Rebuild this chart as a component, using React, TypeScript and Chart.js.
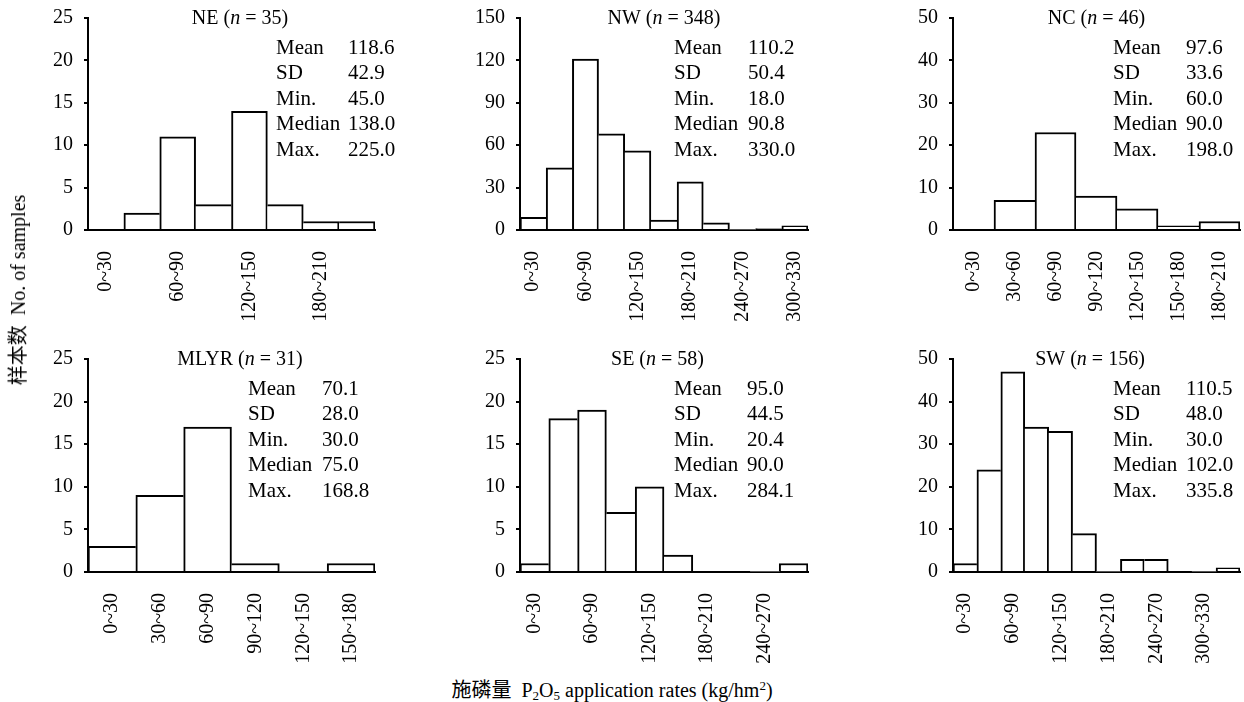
import { useEffect, useRef } from "react";
import { Chart, registerables } from "chart.js";

Chart.register(...registerables);

// ---------- data ----------
const binLabels = [
  "0~30", "30~60", "60~90", "90~120", "120~150", "150~180",
  "180~210", "210~240", "240~270", "270~300", "300~330", "330~360",
];
const regionNames = ["NE", "NW", "NC", "MLYR", "SE", "SW"];
const sampleSizes = [35, 348, 46, 31, 58, 156];

const neCounts = [0, 2, 11, 3, 14, 3, 1, 1];
const nwCounts = [9, 44, 121, 68, 56, 7, 34, 5, 0, 1, 3];
const ncCounts = [0, 7, 23, 8, 5, 1, 2];
const mlyrCounts = [3, 9, 17, 1, 0, 1];
const seCounts = [1, 18, 19, 7, 10, 2, 0, 0, 0, 1];
const swCounts = [2, 24, 47, 34, 33, 9, 0, 3, 3, 0, 0, 1];
const countsByRegion = [neCounts, nwCounts, ncCounts, mlyrCounts, seCounts, swCounts];

const yMaxima = [25, 150, 50, 25, 25, 50];
const yStepSizes = [5, 30, 10, 5, 5, 10];
const tickLabelEvery = [2, 2, 1, 1, 2, 2];

const statNames = ["Mean", "SD", "Min.", "Median", "Max."];
const meanValues = [118.6, 110.2, 97.6, 70.1, 95.0, 110.5];
const sdValues = [42.9, 50.4, 33.6, 28.0, 44.5, 48.0];
const minValues = [45.0, 18.0, 60.0, 30.0, 20.4, 30.0];
const medianValues = [138.0, 90.8, 90.0, 75.0, 90.0, 102.0];
const maxValues = [225.0, 330.0, 198.0, 168.8, 284.1, 335.8];

// ---------- layout ----------
const SERIF = '"Liberation Serif", "Times New Roman", "Noto Sans CJK SC", serif';
const COLS = [
  { left: 88, right: 375 },
  { left: 520, right: 808 },
  { left: 953, right: 1240 },
];
const ROWS = [
  { top: 18, bottom: 230 },
  { top: 359, bottom: 572 },
];
const PANEL_TEXT = [
  { titleDx: 8.5, labelX: 188, valueX: 260 },
  { titleDx: 0, labelX: 154, valueX: 228 },
  { titleDx: 0, labelX: 160, valueX: 233 },
  { titleDx: 8.5, labelX: 160, valueX: 234 },
  { titleDx: -6.5, labelX: 154, valueX: 227 },
  { titleDx: -6.5, labelX: 160, valueX: 233 },
];
const Y_AXIS_W = 70;
const X_AXIS_H = 95;
const PAD_TOP = 15;
const PAD_RIGHT = 20;
const BAR_LINE = 2;

function Panel({ index }: { index: number }) {
  const ref = useRef<HTMLCanvasElement>(null);
  const col = COLS[index % 3];
  const row = ROWS[Math.floor(index / 3)];
  const w = col.right - col.left + Y_AXIS_W + PAD_RIGHT;
  const h = row.bottom - row.top + PAD_TOP + X_AXIS_H;

  useEffect(() => {
    if (!ref.current) return;
    const counts = countsByRegion[index];
    const labels = binLabels.slice(0, counts.length);
    const stats = [meanValues[index], sdValues[index], minValues[index], medianValues[index], maxValues[index]];
    const text = PANEL_TEXT[index];
    const step = tickLabelEvery[index];
    const last = counts.length - 1;

    const panelText = {
      id: "panelText",
      afterDraw(chart: any) {
        const { ctx, chartArea } = chart;
        ctx.save();
        ctx.fillStyle = "#000";
        ctx.textBaseline = "middle";
        ctx.textAlign = "left";
        const normal = `20px ${SERIF}`;
        const italic = `italic 20px ${SERIF}`;
        const parts: [string, string][] = [
          [`${regionNames[index]} (`, normal],
          ["n", italic],
          [` = ${sampleSizes[index]})`, normal],
        ];
        let total = 0;
        for (const [s, f] of parts) {
          ctx.font = f;
          total += ctx.measureText(s).width;
        }
        let x = (chartArea.left + chartArea.right) / 2 + text.titleDx - total / 2;
        const ty = chartArea.top + 1;
        for (const [s, f] of parts) {
          ctx.font = f;
          ctx.fillText(s, x, ty);
          x += ctx.measureText(s).width;
        }
        ctx.font = `21px ${SERIF}`;
        statNames.forEach((name, i) => {
          const yy = chartArea.top + 30.5 + i * 25.4;
          ctx.fillText(name, chartArea.left + text.labelX, yy);
          ctx.fillText(stats[i].toFixed(1), chartArea.left + text.valueX, yy);
        });
        ctx.restore();
      },
    };

    const chart = new Chart(ref.current, {
      type: "bar",
      data: {
        labels,
        datasets: [
          {
            data: counts,
            backgroundColor: "#fff",
            borderColor: "#000",
            // each shared edge is drawn once, by the taller of the two neighbouring bars
            borderWidth: (c: any) => {
              const i = c.dataIndex;
              const v = counts[i];
              return {
                top: BAR_LINE,
                bottom: 0,
                left: i === 0 || counts[i - 1] < v ? BAR_LINE : 0,
                right: i === last || counts[i + 1] <= v ? BAR_LINE : 0,
              };
            },
            borderSkipped: "start",
            barPercentage: 1,
            categoryPercentage: 1,
          },
        ],
      },
      options: {
        responsive: false,
        animation: false,
        devicePixelRatio: 1,
        layout: { padding: { top: PAD_TOP, right: PAD_RIGHT, left: 0, bottom: 0 } },
        plugins: { legend: { display: false }, tooltip: { enabled: false } },
        scales: {
          x: {
            grid: { display: false },
            border: { display: true, color: "#000", width: 2 },
            ticks: {
              autoSkip: false,
              maxRotation: 90,
              minRotation: 90,
              padding: 13,
              color: "#000",
              font: { family: SERIF, size: 20 },
              callback: (_v: any, i: number) => (i % step === 0 ? labels[i] : ""),
            },
            afterFit: (s: any) => {
              s.height = X_AXIS_H;
              s.paddingLeft = 0;
              s.paddingRight = 0;
            },
          },
          y: {
            min: 0,
            max: yMaxima[index],
            ticks: {
              stepSize: yStepSizes[index],
              padding: 11,
              color: "#000",
              font: { family: SERIF, size: 20 },
            },
            grid: { drawOnChartArea: false, drawTicks: true, tickLength: 4, color: "#000", lineWidth: 2 },
            border: { color: "#000", width: 2 },
            afterFit: (s: any) => {
              s.width = Y_AXIS_W;
              s.paddingTop = 0;
              s.paddingBottom = 0;
            },
          },
        },
      },
      plugins: [panelText],
    } as any);
    return () => chart.destroy();
  }, [index]);

  return (
    <canvas
      ref={ref}
      width={w}
      height={h}
      style={{
        position: "absolute",
        left: col.left - Y_AXIS_W,
        top: row.top - PAD_TOP,
        width: w,
        height: h,
      }}
    />
  );
}

export default function App() {
  return (
    <div
      style={{
        position: "absolute",
        left: 0,
        top: 0,
        width: 1244,
        height: 702,
        overflow: "hidden",
        background: "#fff",
        fontFamily: SERIF,
        color: "#000",
      }}
    >
      {regionNames.map((_, i) => (
        <Panel key={i} index={i} />
      ))}
      <div
        style={{
          position: "absolute",
          left: 18,
          top: 290,
          transform: "translate(-50%, -50%) rotate(-90deg)",
          whiteSpace: "pre",
          fontSize: 20,
          lineHeight: "22px",
        }}
      >
        {"样本数  No. of samples"}
      </div>
      <div
        style={{
          position: "absolute",
          left: 612,
          top: 690,
          transform: "translate(-50%, -50%)",
          whiteSpace: "pre",
          fontSize: 20,
          lineHeight: "22px",
        }}
      >
        {"施磷量  P"}
        <sub style={{ fontSize: 13, verticalAlign: "-3px", lineHeight: 0 }}>2</sub>
        {"O"}
        <sub style={{ fontSize: 13, verticalAlign: "-3px", lineHeight: 0 }}>5</sub>
        {" application rates (kg/hm"}
        <sup style={{ fontSize: 13, verticalAlign: "7px", lineHeight: 0 }}>2</sup>
        {")"}
      </div>
    </div>
  );
}
